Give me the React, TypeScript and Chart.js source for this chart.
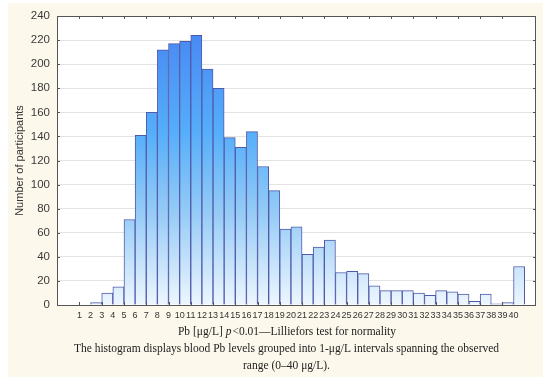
import React, { useEffect, useRef } from "react";
import { Chart, registerables } from "chart.js";

Chart.register(...registerables);

// Bin start values (µg/L), each bin is 1 µg/L wide
const binStarts = [
  0, 1, 2, 3, 4, 5, 6, 7, 8, 9, 10, 11, 12, 13, 14, 15, 16, 17, 18, 19, 20,
  21, 22, 23, 24, 25, 26, 27, 28, 29, 30, 31, 32, 33, 34, 35, 36, 37, 38, 39, 40,
];
// Number of participants per bin
const counts = [
  0, 0, 2, 10, 15, 71, 141, 160, 212, 217, 219, 224, 196, 180, 139, 131, 144,
  115, 95, 63, 65, 42, 48, 54, 27, 28, 26, 16, 12, 12, 12, 10, 8, 12, 11, 9, 3,
  9, 1, 2, 32,
];
// X tick labels
const xTickLabels = [
  1, 2, 3, 4, 5, 6, 7, 8, 9, 10, 11, 12, 13, 14, 15, 16, 17, 18, 19, 20, 21,
  22, 23, 24, 25, 26, 27, 28, 29, 30, 31, 32, 33, 34, 35, 36, 37, 38, 39, 40,
];
// Y axis
const yMin = 0;
const yMax = 240;
const yStep = 20;
const yTitle = "Number of participants";
// Caption
const captionLine1 = ["Pb [\u03bcg/L] ", "p", "<0.01\u2014Lilliefors test for normality"];
const captionLine2 =
  "The histogram displays blood Pb levels grouped into 1-\u03bcg/L intervals spanning the observed";
const captionLine3 = "range (0\u201340 \u03bcg/L).";

const SANS = "'Liberation Sans', Arial, sans-serif";
const SERIF = "'Liberation Serif', 'Times New Roman', serif";

const framePlugin = {
  id: "frame",
  beforeDraw(chart: any) {
    const { ctx, chartArea: a } = chart;
    ctx.save();
    ctx.fillStyle = "#ffffff";
    ctx.fillRect(0, 0, chart.width, chart.height);
    ctx.fillStyle = "#fcf8ec";
    ctx.fillRect(8, 3, chart.width - 15, chart.height - 10);
    ctx.fillStyle = "#ffffff";
    ctx.fillRect(a.left, a.top, a.right - a.left, a.bottom - a.top);
    ctx.restore();
  },
  afterDatasetsDraw(chart: any) {
    const { ctx, chartArea: a, scales } = chart;
    ctx.save();
    ctx.strokeStyle = "#555555";
    ctx.lineWidth = 1;
    ctx.strokeRect(a.left + 0.5, a.top + 0.5, a.right - a.left - 1, a.bottom - a.top);
    ctx.beginPath();
    // y ticks (inward, both sides)
    for (let v = yMin; v <= yMax; v += yStep) {
      const y = Math.round(scales.y.getPixelForValue(v)) + 0.5;
      ctx.moveTo(a.left, y);
      ctx.lineTo(a.left + 3, y);
      ctx.moveTo(a.right, y);
      ctx.lineTo(a.right - 3, y);
    }
    // x ticks (inward, top and bottom) at odd values
    xTickLabels.forEach((v) => {
      if (v % 2 === 1) {
        const x = Math.round(scales.x.getPixelForValue(v)) + 0.5;
        ctx.moveTo(x, a.top);
        ctx.lineTo(x, a.top + 3);
        ctx.moveTo(x, a.bottom);
        ctx.lineTo(x, a.bottom - 3);
      }
    });
    ctx.stroke();
    ctx.restore();
  },
  afterDraw(chart: any) {
    const { ctx, chartArea: a } = chart;
    const cx = (a.left + a.right) / 2 - 10;
    ctx.save();
    ctx.fillStyle = "#222222";
    ctx.textBaseline = "middle";
    const normal = "11.5px " + SERIF;
    const italic = "italic 11.5px " + SERIF;
    // line 1 with italic p
    const fonts = [normal, italic, normal];
    let total = 0;
    const widths = captionLine1.map((t, i) => {
      ctx.font = fonts[i];
      const w = ctx.measureText(t).width;
      total += w;
      return w;
    });
    let x = cx - total / 2;
    ctx.textAlign = "left";
    captionLine1.forEach((t, i) => {
      ctx.font = fonts[i];
      ctx.fillText(t, x, a.bottom + 27);
      x += widths[i] + (i === 1 ? 1 : 0);
    });
    ctx.font = normal;
    ctx.textAlign = "center";
    ctx.fillText(captionLine2, cx, a.bottom + 44);
    ctx.fillText(captionLine3, cx, a.bottom + 61);
    ctx.restore();
  },
};

export default function App() {
  const ref = useRef<HTMLCanvasElement | null>(null);

  useEffect(() => {
    if (!ref.current) return;
    const chart = new Chart(ref.current, {
      type: "bar",
      data: {
        datasets: [
          {
            data: counts.map((c, i) => ({ x: binStarts[i] + 0.5, y: c })),
            backgroundColor: (ctx: any) => {
              const { chart } = ctx;
              const area = chart.chartArea;
              if (!area) return "#7fbff5";
              const g = chart.ctx.createLinearGradient(0, area.top, 0, area.bottom);
              g.addColorStop(0, "#4683f2");
              g.addColorStop(0.4, "#55aefa");
              g.addColorStop(0.68, "#95cbf6");
              g.addColorStop(1, "#eef6fe");
              return g;
            },
            borderColor: "#4f5aab",
            borderWidth: 1,
            barPercentage: 1,
            categoryPercentage: 1,
          } as any,
        ],
      },
      options: {
        responsive: false,
        animation: false,
        devicePixelRatio: 1,
        layout: { padding: { left: 0, top: 16, right: 14, bottom: 0 } },
        plugins: {
          legend: { display: false },
          tooltip: { enabled: false },
          title: { display: false },
        },
        scales: {
          x: {
            type: "linear",
            min: -0.48,
            max: 41.48,
            afterBuildTicks: (s: any) => {
              s.ticks = xTickLabels.map((v) => ({ value: v }));
            },
            afterFit: (s: any) => {
              s.height = 79;
            },
            ticks: {
              autoSkip: false,
              maxRotation: 0,
              minRotation: 0,
              padding: 5,
              color: "#333333",
              font: { family: SANS, size: 9 },
              callback: (v: any) => String(v),
            },
            grid: { display: false, drawTicks: false },
            border: { display: false },
          },
          y: {
            min: yMin,
            max: yMax,
            afterFit: (s: any) => {
              s.width = 57;
            },
            ticks: {
              stepSize: yStep,
              padding: 7,
              color: "#3a3a3a",
              font: { family: SANS, size: 11.5 },
            },
            grid: { color: "#e3e3e3", drawTicks: false },
            border: { display: false },
            title: {
              display: true,
              text: yTitle,
              color: "#333333",
              font: { family: SANS, size: 11 },
              padding: { top: 13, bottom: 0 },
            },
          },
        },
      },
      plugins: [framePlugin],
    } as any);
    return () => chart.destroy();
  }, []);

  return (
    <div style={{ position: "fixed", left: 0, top: 0, width: 550, height: 384 }}>
      <canvas ref={ref} width={550} height={384} style={{ display: "block" }} />
    </div>
  );
}
